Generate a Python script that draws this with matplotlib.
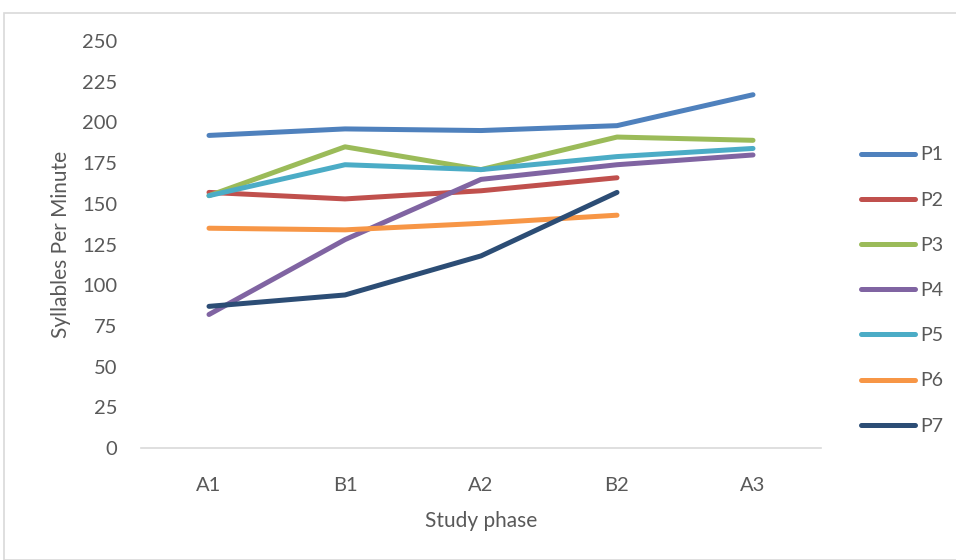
import matplotlib.pyplot as plt
from matplotlib.patches import Rectangle

phases = ["A1", "B1", "A2", "B2", "A3"]

p1 = [192, 196, 195, 198, 217]
p2 = [157, 153, 158, 166]
p3 = [155, 185, 171, 191, 189]
p4 = [82, 128, 165, 174, 180]
p5 = [155, 174, 171, 179, 184]
p6 = [135, 134, 138, 143]
p7 = [87, 94, 118, 157]

series = [("P1", p1), ("P2", p2), ("P3", p3), ("P4", p4),
          ("P5", p5), ("P6", p6), ("P7", p7)]
colors = ["#4F81BD", "#C0504D", "#9BBB59", "#8064A2",
          "#4BACC6", "#F79646", "#2C4D75"]

plt.rcParams['font.family'] = ['Lato', 'DejaVu Sans']
text_color = "#595959"

fig = plt.figure(figsize=(9.56, 5.6), dpi=100)
fig.patches.append(Rectangle((4 / 956, 0), 1, 1 - 13 / 560, transform=fig.transFigure,
                             fill=False, edgecolor="#D9D9D9", linewidth=1.2))

ax = fig.add_axes([141 / 956, 112 / 560, 680 / 956, 407 / 560])

for (name, vals), c in zip(series, colors):
    ax.plot(range(len(vals)), vals, color=c, linewidth=3.6, label=name,
            solid_capstyle="round", solid_joinstyle="round")

ax.set_xlim(-0.5, len(phases) - 0.5)
ax.set_ylim(0, 250)
ax.set_yticks(range(0, 251, 25))
ax.set_xticks(range(len(phases)))
ax.set_xticklabels(phases)

for s in ["top", "right", "left"]:
    ax.spines[s].set_visible(False)
ax.spines["bottom"].set_color("#D9D9D9")
ax.spines["bottom"].set_linewidth(1.2)
ax.tick_params(axis="both", length=0, labelsize=14.5, colors=text_color)
ax.tick_params(axis="y", pad=17)
ax.tick_params(axis="x", pad=21)

ax.set_xlabel("Study phase", fontsize=15, color=text_color, labelpad=12)
ax.set_ylabel("Syllables Per Minute", fontsize=15, color=text_color, labelpad=8)

leg = ax.legend(loc="upper left", bbox_to_anchor=(843 / 956, 1 - 129 / 560),
                bbox_transform=fig.transFigure, frameon=False, fontsize=14,
                handlelength=2.8, handletextpad=0.25, labelspacing=1.45)
for t in leg.get_texts():
    t.set_color(text_color)

fig.savefig("out.png", dpi=100)
